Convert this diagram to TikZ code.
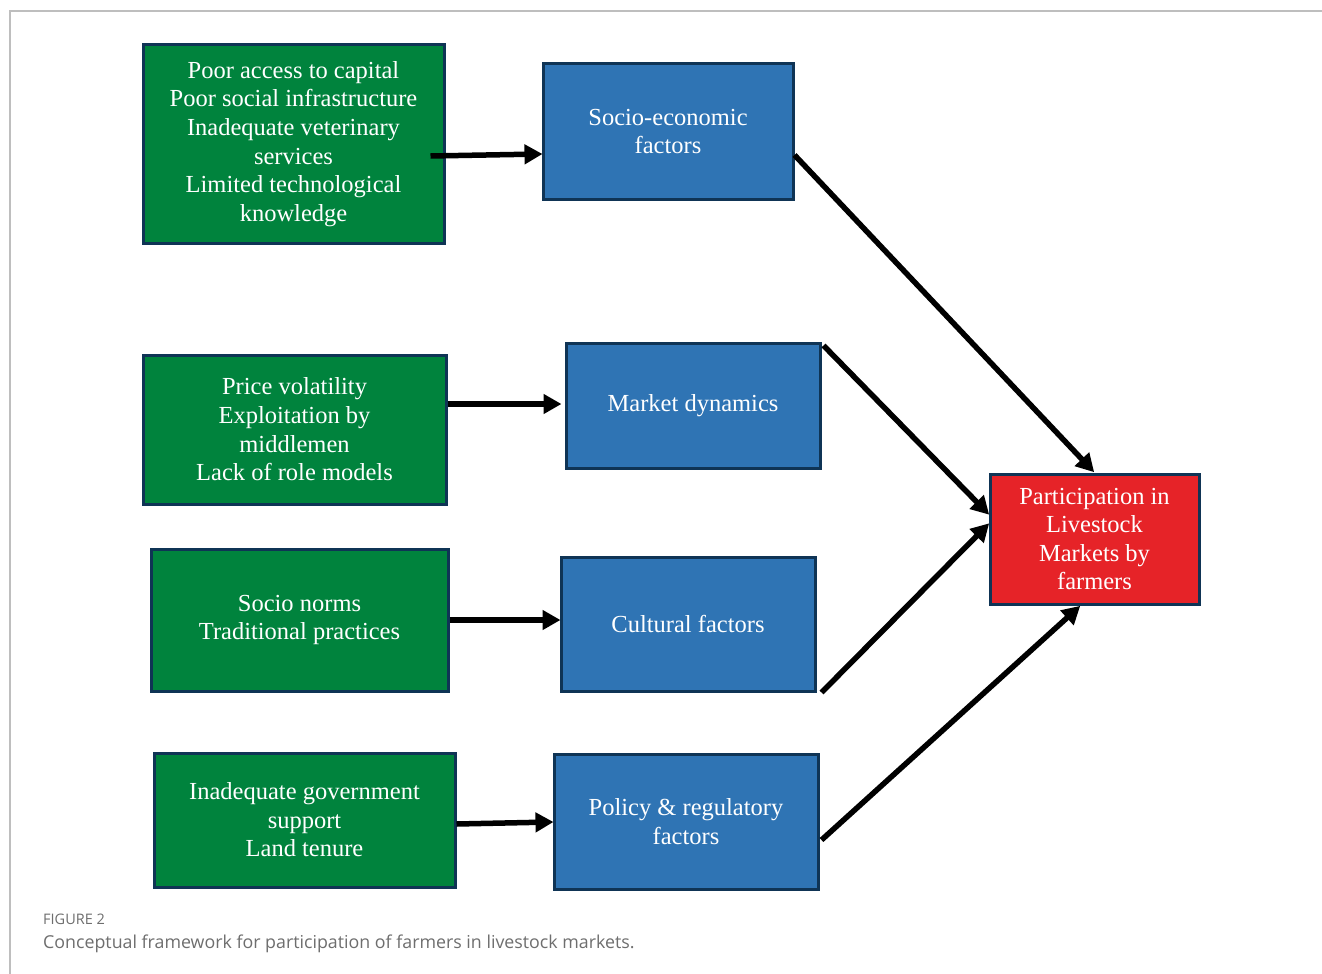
\documentclass[tikz,border=0pt]{standalone}
\usepackage{fontspec}
\setmainfont{Liberation Serif}
\newfontfamily\capfont{Open Sans}
\usetikzlibrary{arrows.meta}
\definecolor{boxgreen}{RGB}{0,131,61}
\definecolor{boxblue}{RGB}{47,116,180}
\definecolor{boxred}{RGB}{230,35,40}
\definecolor{boxedge}{RGB}{15,52,85}
\definecolor{framegrey}{RGB}{190,190,190}
\definecolor{capgrey}{RGB}{110,110,110}
\tikzset{
  basebox/.style={draw=boxedge, line width=3pt, align=center, text=white,
    font=\fontsize{24.5}{28.6}\selectfont, inner sep=0pt},
  gbox/.style={basebox, fill=boxgreen},
  bbox/.style={basebox, fill=boxblue},
  rbox/.style={basebox, fill=boxred},
  conn/.style={line width=5.5pt, -{Triangle[length=18pt,width=19pt]}, shorten >=-1pt},
}
\begin{document}
\begin{tikzpicture}[x=1pt,y=-1pt]
\useasboundingbox (0,0) rectangle (1322,974);
\fill[white] (0,0) rectangle (1322,974);
\draw[framegrey, line width=1.5pt] (10,974) -- (10,11) -- (1322,11);

% green boxes
\node[gbox, minimum width=301pt, minimum height=198pt] (g1) at (293.5,144) {Poor access to capital\\Poor social infrastructure\\Inadequate veterinary\\services\\Limited technological\\knowledge};
\node[gbox, minimum width=303pt, minimum height=149pt] (g2) at (294.5,429.5) {Price volatility\\Exploitation by\\middlemen\\Lack of role models};
\node[gbox, minimum width=297pt, minimum height=142pt] (g3) at (299.5,620) {Socio norms\\Traditional practices};
\node[gbox, minimum width=301pt, minimum height=134pt] (g4) at (304.5,820) {Inadequate government\\support\\Land tenure};

% blue boxes
\node[bbox, minimum width=250pt, minimum height=135pt] (b1) at (668,131.5) {Socio-economic\\factors};
\node[bbox, minimum width=254pt, minimum height=125pt] (b2) at (693,405.5) {Market dynamics};
\node[bbox, minimum width=254pt, minimum height=134pt] (b3) at (688,624) {Cultural factors};
\node[bbox, minimum width=264pt, minimum height=135pt] (b4) at (686,821.5) {Policy \& regulatory\\factors};

% red box
\node[rbox, minimum width=209pt, minimum height=130pt] (r) at (1094.5,539) {Participation in\\Livestock\\Markets by\\farmers};

% arrows green -> blue
\draw[conn] ([shift={(-15,12)}]g1.east) -- ([shift={(0,22.5)}]b1.west);
\draw[conn] ([shift={(0,-25.5)}]g2.east) -- ([shift={(-4,-1.5)}]b2.west);
\draw[conn] (g3.east) -- ([shift={(0,-4)}]b3.west);
\draw[conn] ([shift={(0,4)}]g4.east) -- ([shift={(0,0.5)}]b4.west);

% arrows blue -> red
\draw[conn] ([shift={(0,23.5)}]b1.east) -- ([shift={(-1,-1)}]r.north);
\draw[conn] ([shift={(2,4)}]b2.north east) -- ([shift={(0,-25)}]r.west);
\draw[conn] ([shift={(5,0)}]b3.south east) -- ([shift={(0,-15)}]r.west);
\draw[conn] ([shift={(2,18.5)}]b4.east) -- ([shift={(-15,1)}]r.south);

% caption
\node[anchor=base west, inner sep=0pt, text=capgrey, font=\capfont\fontsize{14.5}{16}\selectfont] (capa) at (43,924) {FIGURE 2};
\node[anchor=base west, inner sep=0pt, text=capgrey, font=\capfont\fontsize{17.8}{20}\selectfont] (capb) at (43,948) {Conceptual framework for participation of farmers in livestock markets.};
\end{tikzpicture}
\end{document}
